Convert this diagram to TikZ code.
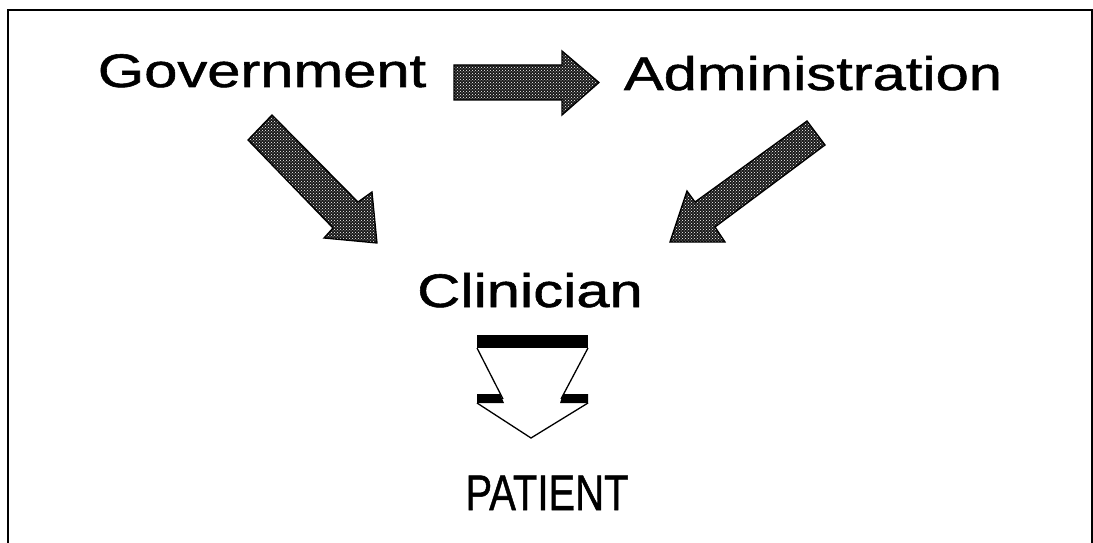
\documentclass[tikz,border=0pt]{standalone}
\usepackage{fontspec}
\newfontfamily\labelfont{Liberation Sans}[FakeStretch=1.27, FakeBold=1.2]
\usetikzlibrary{patterns}
\begin{document}
\begin{tikzpicture}[x=1pt,y=-1pt,
  label/.style={inner sep=0pt, anchor=base, font=\labelfont\fontsize{47}{56}\selectfont},
  biglabel/.style={inner sep=0pt, anchor=base, font=\labelfont\fontsize{50}{60}\selectfont},
  blockarrow/.style={preaction={fill=black!90}, pattern=crosshatch dots,
    pattern color=white, draw=black, line width=1.3pt, line join=miter},
  hollowline/.style={draw=black, line width=1.3pt, line join=miter},
  frame/.style={draw=black, line width=1.8pt}]
\useasboundingbox (0,0) rectangle (1093,543);

% frame, open at the bottom
\draw[frame] (8,545) -- (8,10) -- (1092,10) -- (1092,545);

% labels
\node[label] (gov) at (262,87) {Government};
\node[label] (adm) at (813,90) {Administration};
\node[label] (cli) at (530,307) {Clinician};
\node[biglabel] (pat) at (547,510) {\scalebox{0.63}[1]{PATIENT}};

% Government -> Administration
\path[blockarrow] (454,65) -- (562,65) -- (562,51) -- (599,82.5)
  -- (562,115) -- (562,100) -- (454,100) -- cycle;

% Government -> Clinician
\path[blockarrow] (248,140) -- (272,115) -- (358,202) -- (372,192)
  -- (377,243) -- (324,238) -- (333,228) -- cycle;

% Administration -> Clinician
\path[blockarrow] (807,121) -- (825,145) -- (715,227) -- (725,242)
  -- (670,242) -- (687,191) -- (695,202) -- cycle;

% Clinician -> PATIENT (hollow arrow with dark top and shoulders)
\fill (477,335) rectangle (588,348);
\fill (477,394) -- (500,394) -- (504,403) -- (477,403) -- cycle;
\fill (563,394) -- (588,394) -- (588,403) -- (560,403) -- cycle;
\path[hollowline] (477,348) -- (503,399);
\path[hollowline] (588,348) -- (561,399);
\path[hollowline] (477,403) -- (531,438) -- (588,403);
\end{tikzpicture}
\end{document}
